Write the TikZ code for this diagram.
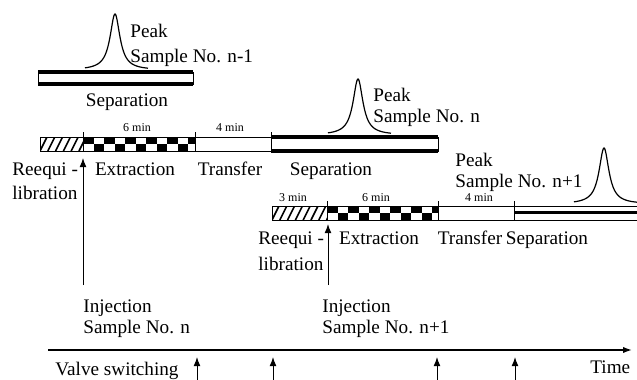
\documentclass[tikz,border=0pt]{standalone}
\usepackage{fontspec}
\setmainfont{Liberation Serif}
\usetikzlibrary{arrows.meta}
\newcommand{\peakcurve}[2]{%
  \draw[peakline] plot[domain=-30:33,samples=120] ({#1+\x},{#2-56/(1+(\x/6)^2)});}
\newcommand{\checkbar}[3]{%
  \begin{scope}
    \clip (#1,#3) rectangle (#2,#3+14);
    \foreach \i in {0,2,...,10} \fill (#1+\i*10.5,#3) rectangle ++(10.5,7);
    \foreach \i in {1,3,...,9} \fill (#1+\i*10.5,#3+7) rectangle ++(10.5,7);
  \end{scope}}
\newcommand{\hatchbar}[3]{%
  \begin{scope}
    \clip (#1,#3) rectangle (#2,#3+14);
    \foreach \k in {-2,...,9} \draw[line width=0.8pt] (#1+\k*7.8,#3+14) -- ++(7,-14);
  \end{scope}}

\begin{document}
\begin{tikzpicture}[x=0.5pt,y=-0.5pt,
  lbl/.style={font=\fontsize{9.6}{11}\selectfont,inner sep=0,anchor=base},
  minlbl/.style={font=\fontsize{6}{7}\selectfont,inner sep=0,anchor=base},
  thinbox/.style={line width=0.45pt},
  thickrule/.style={line width=1.6pt},
  tickline/.style={line width=0.4pt},
  peakline/.style={line width=0.6pt},
  uparrow/.style={line width=0.5pt,-{Latex[length=4.5pt,width=3.4pt]}},
  timeaxis/.style={line width=0.8pt,-{Latex[length=4.5pt,width=3.2pt]}}]
\useasboundingbox (0,0) rectangle (637,380);

% previous sample
\peakcurve{115}{70}
\draw[thinbox] (38,72) rectangle (193,84);
\draw[thickrule] (38,72) -- (193,72) (38,84) -- (193,84);
\node[lbl,anchor=base west] (pk0) at (130,38) {Peak};
\node[lbl,anchor=base west] (sm0) at (130,62) {Sample No. n-1};
\node[lbl] (sep0) at (127,106) {Separation};

% sample n
\hatchbar{40}{83}{137}
\checkbar{83}{195}{137}
\draw[thinbox] (40,137) rectangle (271,151);
\draw[thinbox] (83,137) -- (83,151) (195,137) -- (195,151);
\draw[thinbox] (271,137) rectangle (438,151);
\draw[thickrule] (271,137) -- (438,137) (271,151) -- (438,151);
\foreach \tx in {83,195,271} \draw[tickline] (\tx,132) -- (\tx,137);
\peakcurve{358}{135}
\node[lbl,anchor=base west] (pk1) at (373,101) {Peak};
\node[lbl,anchor=base west] (sm1) at (373,122) {Sample No. n};
\node[minlbl] (ta1) at (137,131) {6 min};
\node[minlbl] (tb1) at (230,131) {4 min};
\node[lbl,anchor=base west] (rq1) at (12,175) {Reequi -};
\node[lbl,anchor=base west] (lb1) at (12,199) {libration};
\node[lbl] (ex1) at (135,175) {Extraction};
\node[lbl] (tr1) at (230,175) {Transfer};
\node[lbl] (sp1) at (331,175) {Separation};

% sample n+1
\hatchbar{272}{327}{206}
\checkbar{327}{438}{206}
\draw[thinbox] (272,206) rectangle (514,220);
\draw[thinbox] (327,206) -- (327,220) (438,206) -- (438,220);
\draw[thinbox] (514,206) -- (637,206) (514,220) -- (637,220) (514,206) -- (514,220);
\draw[thickrule] (514,212.5) -- (637,212.5);
\foreach \tx in {327,438,514} \draw[tickline] (\tx,201) -- (\tx,206);
\peakcurve{604}{204}
\node[lbl,anchor=base west] (pk2) at (455,166) {Peak};
\node[lbl,anchor=base west] (sm2) at (455,187) {Sample No. n+1};
\node[minlbl] (tc2) at (293,201) {3 min};
\node[minlbl] (ta2) at (376,201) {6 min};
\node[minlbl] (tb2) at (479,201) {4 min};
\node[lbl,anchor=base west] (rq2) at (258,244) {Reequi -};
\node[lbl,anchor=base west] (lb2) at (258,270) {libration};
\node[lbl] (ex2) at (379,244) {Extraction};
\node[lbl] (tr2) at (470,244) {Transfer};
\node[lbl] (sp2) at (547,244) {Separation};

% injections
\coordinate (in1) at (83,285);
\coordinate (st1) at (83,158);
\coordinate (in2) at (328,285);
\coordinate (st2) at (328,224);
\draw[uparrow] (in1) -- (st1);
\draw[uparrow] (in2) -- (st2);
\node[lbl,anchor=base west] (ij1) at (83,312) {Injection};
\node[lbl,anchor=base west] (is1) at (83,333) {Sample No. n};
\node[lbl,anchor=base west] (ij2) at (322,312) {Injection};
\node[lbl,anchor=base west] (is2) at (322,333) {Sample No. n+1};

% time axis and valve switching
\coordinate (t0) at (48,350);
\coordinate (t1) at (632,350);
\draw[timeaxis] (t0) -- (t1);
\node[lbl,anchor=base west] (vs) at (55,375) {Valve switching};
\node[lbl,anchor=base west] (tm) at (590,373) {Time};
\foreach \vx [count=\n] in {197,273,437,515} {
  \coordinate (vb\n) at (\vx,382);
  \coordinate (vt\n) at (\vx,357);
  \draw[uparrow] (vb\n) -- (vt\n);
}
\end{tikzpicture}
\end{document}
